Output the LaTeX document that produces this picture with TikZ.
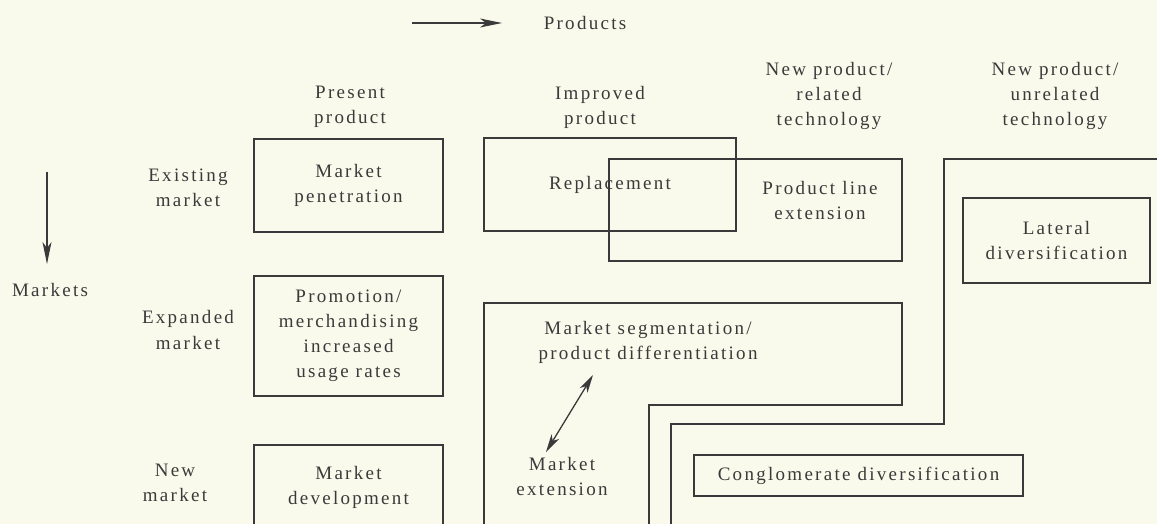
\documentclass[tikz,border=0pt]{standalone}
\usepackage{fontspec}
\setmainfont{Liberation Serif}[LetterSpace=12]
\usetikzlibrary{arrows.meta}
\definecolor{inkgrey}{RGB}{58,58,58}
\definecolor{paper}{RGB}{250,250,236}

\begin{document}
\begin{tikzpicture}[
    x=1pt, y=-1pt,
    every node/.style={font=\fontsize{19}{25}\selectfont, text=inkgrey, align=center},
    cell/.style={draw=inkgrey, line width=1.2pt, inner sep=0pt},
    region/.style={draw=inkgrey, line width=1.1pt},
    axis/.style={draw=inkgrey, line width=1.4pt, -{Stealth[length=22pt, width=9pt, inset=6pt]}},
    twoway/.style={draw=inkgrey, line width=1.3pt, {Stealth[length=18pt, width=9pt, inset=5pt]}-{Stealth[length=18pt, width=9pt, inset=5pt]}}
]

% Paper
\fill[paper] (0,0) rectangle (1157,524);
\useasboundingbox (0,0) rectangle (1157,524);
\clip (0,0) rectangle (1157,524);

% Axes
\node (prod) at (585,23) {Products};
\coordinate (prodtail) at (412,23);
\coordinate (prodtip) at (502,23);
\draw[axis] (prodtail) -- (prodtip);

\node (mkts) at (50,290) {Markets};
\coordinate (mkttail) at (47,172);
\coordinate (mkttip) at (47,264);
\draw[axis] (mkttail) -- (mkttip);

% Column heads
\node (present) at (350,107) {Present\\product};
\node (improved) at (600,107) {Improved\\product};
\node (related) at (829,96) {New product/\\related\\technology};
\node (unrelated) at (1055,96) {New product/\\unrelated\\technology};

% Row heads
\node (existing) at (188,188) {Existing\\market};
\node (expanded) at (188,330) {Expanded\\market};
\node (newmkt) at (175,483) {New\\market};

% Cells
\node[cell, minimum width=189pt, minimum height=93pt] (pen) at (348.5,185.5) {Market\\penetration};
\node[cell, minimum width=189pt, minimum height=120pt] (promo) at (348.5,336) {Promotion/\\merchandising\\increased\\usage rates};
\node[cell, minimum width=189pt, minimum height=84pt] (dev) at (348.5,487) {Market\\development};
\node[cell, minimum width=252pt, minimum height=93pt] (repl) at (610,184.5) {Replacement};
\node[cell, minimum width=293pt, minimum height=102pt] (ple) at (755.5,210) {};
\node (pletext) at (820,201) {Product line\\extension};
\node[cell, minimum width=187pt, minimum height=85pt] (lat) at (1056.5,240.5) {Lateral\\diversification};
\node[cell, minimum width=329pt, minimum height=41pt] (cong) at (858.5,475.5) {Conglomerate diversification};

% Regions
\draw[region] (484,530) -- (484,303) -- (902,303) -- (902,405) -- (649,405) -- (649,530);
\draw[region] (1165,159) -- (944,159) -- (944,424) -- (671,424) -- (671,530);

\node (mseg) at (648,342) {Market segmentation/\\product differentiation};
\node (mext) at (562,476) {Market\\extension};
\coordinate (segtip) at (593,375);
\coordinate (exttip) at (546,452);
\draw[twoway] (exttip) -- (segtip);

\end{tikzpicture}
\end{document}
